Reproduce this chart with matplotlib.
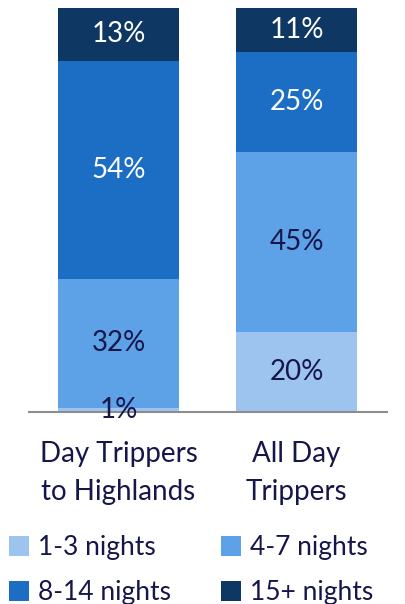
import numpy as np
import matplotlib.pyplot as plt

plt.rcParams['font.family'] = ['Lato', 'DejaVu Sans']

groups = ['Day Trippers\nto Highlands', 'All Day\nTrippers']
series = ['1-3 nights', '4-7 nights', '8-14 nights', '15+ nights']
values = {
    '1-3 nights': [1, 20],
    '4-7 nights': [32, 45],
    '8-14 nights': [54, 25],
    '15+ nights': [13, 11],
}
colors = ['#9DC3EF', '#5DA2E6', '#1C6DC4', '#0E3763']
text_colors = ['#17164A', '#17164A', 'white', 'white']
navy = '#17164A'

fig = plt.figure(figsize=(4.06, 6.04), dpi=100)
ax = fig.add_axes([29 / 406, 192 / 604, 358 / 406, 404 / 604])

x = np.arange(len(groups))
totals = np.sum([values[s] for s in series], axis=0)
bottom = np.zeros(len(groups))
handles = []
for s, c, tc in zip(series, colors, text_colors):
    share = np.array(values[s]) / totals
    b = ax.bar(x, share, 0.68, bottom=bottom, color=c, label=s)
    handles.append(b)
    for xi, v, sh, bt in zip(x, values[s], share, bottom):
        ax.text(xi, bt + sh / 2, f'{v}%', ha='center', va='center',
                color=tc, fontsize=20, clip_on=False)
    bottom += share

ax.set_xlim(-0.503, 1.508)
ax.set_ylim(0, 1)
for sp in ['top', 'right', 'left']:
    ax.spines[sp].set_visible(False)
ax.spines['bottom'].set_color('#8C8C8C')
ax.spines['bottom'].set_linewidth(1.5)
ax.set_yticks([])
ax.set_xticks(x)
ax.set_xticklabels(groups, fontsize=20, color=navy, linespacing=1.55)
ax.tick_params(axis='x', length=0, pad=21)

order = [0, 2, 1, 3]
fig.legend([handles[i] for i in order], [series[i] for i in order],
           ncol=2, loc='lower left', bbox_to_anchor=(-0.017, -0.028),
           frameon=False, fontsize=19, labelcolor=navy,
           handlelength=0.75, handleheight=0.75, handletextpad=0.35,
           columnspacing=1.9, labelspacing=0.75, borderaxespad=0.2)

fig.savefig('out.png', dpi=100)
